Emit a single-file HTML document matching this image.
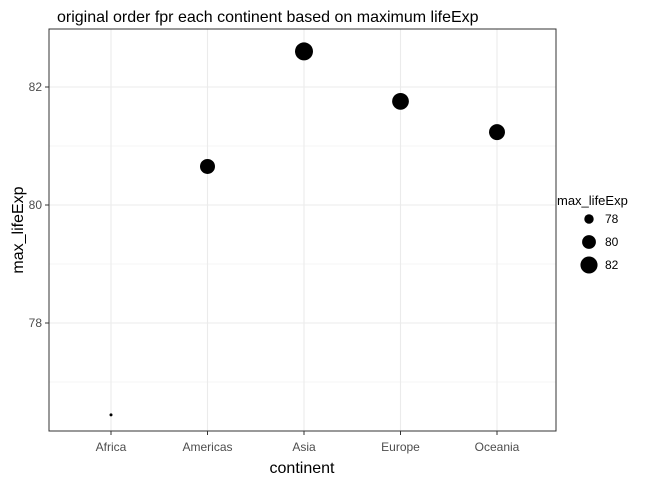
<!DOCTYPE html>
<html><head><meta charset="utf-8"><style>
html,body{margin:0;padding:0;background:#fff;}
svg{display:block;font-family:"Liberation Sans",Arial,sans-serif;}
</style></head><body>
<svg width="672" height="480" viewBox="0 0 672 480">
<text x="57" y="22" font-size="16" fill="#000">original order fpr each continent based on maximum lifeExp</text>
<g id="grid"></g>
<rect x="49" y="29" width="507" height="402" fill="none" stroke="#333" stroke-width="1"/>
<g id="ticks"></g>
<g id="points"></g>
<text x="302" y="473" font-size="16" text-anchor="middle">continent</text>
<text transform="translate(23,230) rotate(-90)" font-size="16" text-anchor="middle">max_lifeExp</text>
<g id="legend">
<text x="557" y="205" font-size="13">max_lifeExp</text>
</g>
</svg>
<script>
const categories=["Africa","Americas","Asia","Europe","Oceania"];
const values=[76.442,80.653,82.603,81.757,81.235];
const yTicks=[78,80,82];
const legendValues=[78,80,82];
const NS="http://www.w3.org/2000/svg";
function mk(tag,attrs,parent){const e=document.createElementNS(NS,tag);for(const k in attrs)e.setAttribute(k,attrs[k]);parent.appendChild(e);return e;}
const x=i=>111+i*96.5;
const y=v=>205-(v-80)*59;
const vmin=Math.min(...values),vmax=Math.max(...values);
const rmin=1.5,rmax=9;
const r=v=>{const t=Math.max(0,(v-vmin)/(vmax-vmin));return Math.sqrt(rmin*rmin+(rmax*rmax-rmin*rmin)*t);};
const grid=document.getElementById('grid'),ticks=document.getElementById('ticks'),pts=document.getElementById('points'),leg=document.getElementById('legend');
// minor gridlines
for(let v=77;v<=83;v+=2){const yy=y(v);if(yy>29&&yy<431){const l=mk('line',{x1:49,x2:556,y1:yy,y2:yy,stroke:'#ebebeb','stroke-width':0.6},grid);

}}
yTicks.forEach(v=>{const yy=y(v);
const l=mk('line',{x1:49,x2:556,y1:yy,y2:yy,stroke:'#ebebeb','stroke-width':1.1},grid);


const tk=mk('line',{x1:45,x2:49,y1:yy,y2:yy,stroke:'#333'},ticks);


const t=mk('text',{x:42,y:yy+4,'font-size':12,'text-anchor':'end',fill:'#4d4d4d'},ticks);t.textContent=v;

});
categories.forEach((c,i)=>{const xx=x(i);
const l=mk('line',{x1:xx,x2:xx,y1:29,y2:431,stroke:'#ebebeb','stroke-width':1.1},grid);


const tk=mk('line',{x1:xx,x2:xx,y1:431,y2:435,stroke:'#333'},ticks);


const t=mk('text',{x:xx,y:451,'font-size':12,'text-anchor':'middle',fill:'#4d4d4d'},ticks);t.textContent=c;


const p=mk('circle',{cx:xx,cy:y(values[i]),r:r(values[i]),fill:'#000'},pts);

});
legendValues.forEach((v,i)=>{const yy=219+i*23;
const c=mk('circle',{cx:589,cy:yy,r:r(v),fill:'#000'},leg);


const t=mk('text',{x:605,y:yy+4,'font-size':12,fill:'#000'},leg);t.textContent=v;

});
</script>
</body></html>
